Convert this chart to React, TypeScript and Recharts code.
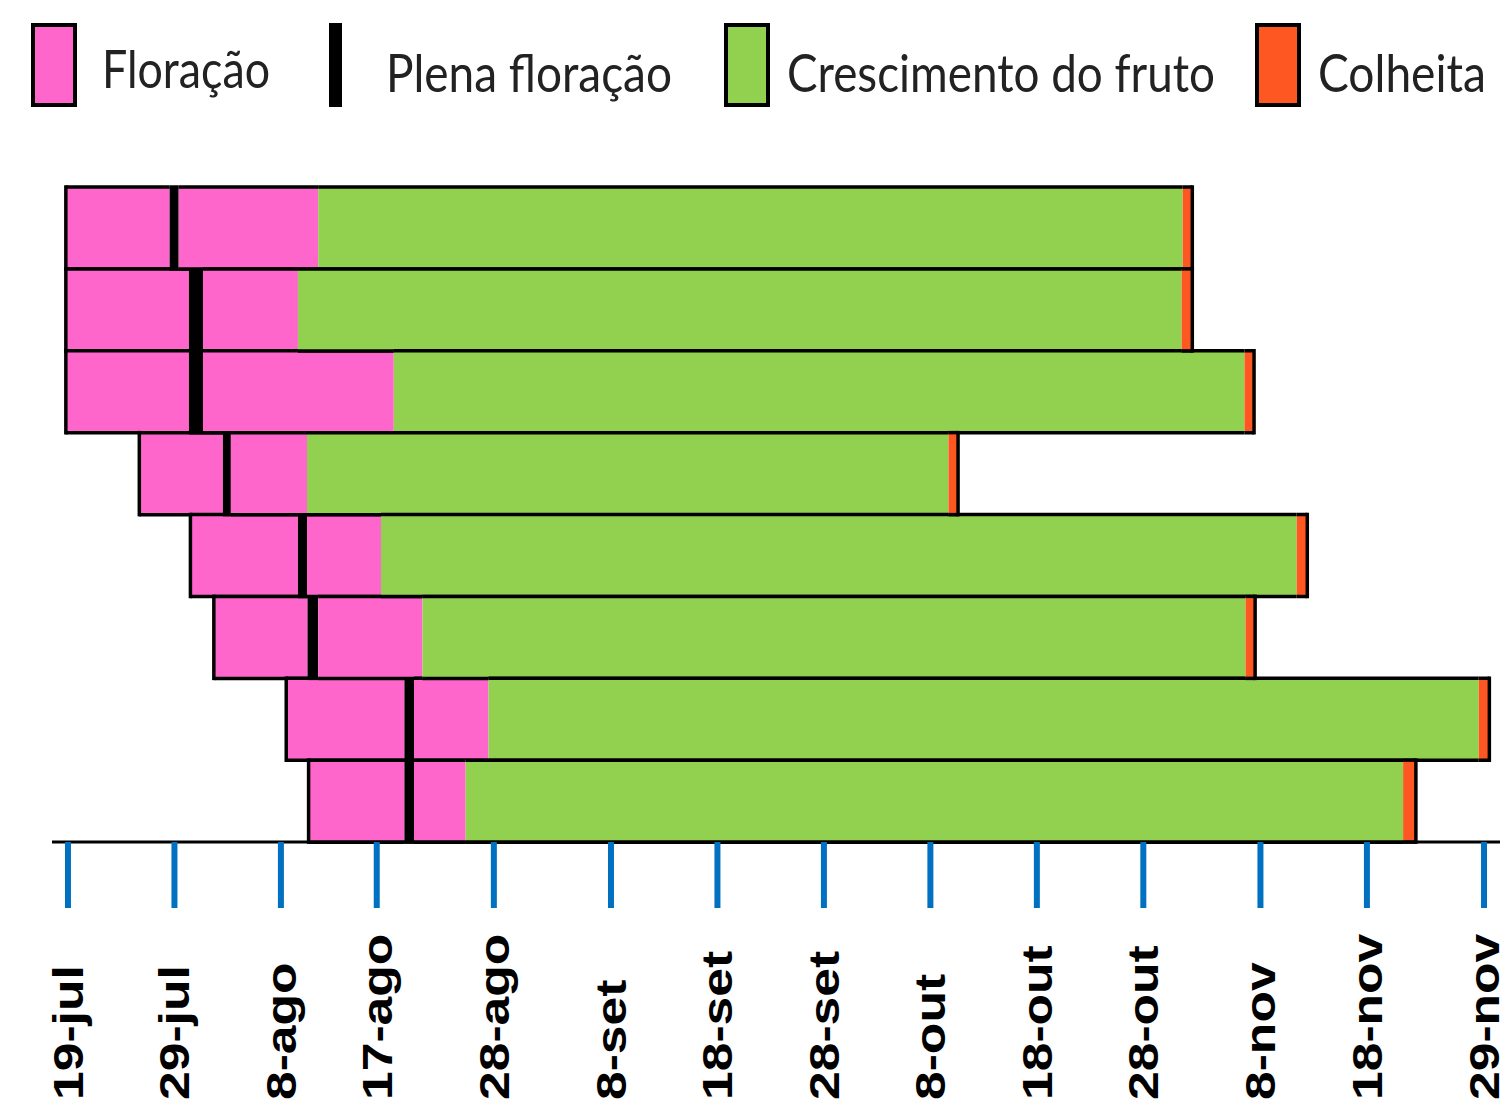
import { Bar, BarChart, XAxis, YAxis } from "recharts"

// days counted from 19-jul
const rowIds = ["1", "2", "3", "4", "5", "6", "7", "8"]
const floracaoInicio = [-0.2, -0.2, -0.2, 6.7, 11.5, 13.7, 20.5, 22.6]
const plenaInicio = [9.55, 11.36, 11.36, 14.55, 21.6, 22.5, 31.6, 31.6]
const plenaFim = [10.4, 12.68, 12.68, 15.3, 22.45, 23.5, 32.5, 32.5]
const floracaoFim = [23.5, 21.6, 30.6, 22.45, 29.4, 33.3, 39.5, 37.35]
const crescimentoFim = [104.7, 104.6, 110.5, 82.7, 115.4, 110.6, 132.5, 125.4]
const colheitaFim = [105.6, 105.6, 111.4, 83.6, 116.4, 111.5, 133.5, 126.6]

const tickDays = [0, 10, 20, 29, 40, 51, 61, 71, 81, 91, 101, 112, 122, 133]
const tickLabels = [
  "19-jul", "29-jul", "8-ago", "17-ago", "28-ago", "8-set", "18-set",
  "28-set", "8-out", "18-out", "28-out", "8-nov", "18-nov", "29-nov",
]

const legendLabels = ["Floração", "Plena floração", "Crescimento do fruto", "Colheita"]

const PINK = "#FF66CC"
const GREEN = "#92D050"
const ORANGE = "#FF5722"
const OUTLINE = 3.5

const table = rowIds.map((row, i) => ({
  row,
  offset: floracaoInicio[i],
  flor1: plenaInicio[i] - floracaoInicio[i],
  plena: plenaFim[i] - plenaInicio[i],
  flor2: floracaoFim[i] - plenaFim[i],
  fruto: crescimentoFim[i] - floracaoFim[i],
  colheita: colheitaFim[i] - crescimentoFim[i],
}))

function segment(fill: string, first: boolean, last: boolean) {
  return (props: any) => {
    const { x, y, width, height } = props
    return (
      <g>
        <rect x={x} y={y} width={width} height={height} fill={fill} />
        <line x1={x} x2={x + width} y1={y} y2={y} stroke="#000" strokeWidth={OUTLINE} />
        <line x1={x} x2={x + width} y1={y + height} y2={y + height} stroke="#000" strokeWidth={OUTLINE} />
        {first && (
          <line x1={x} x2={x} y1={y - OUTLINE / 2} y2={y + height + OUTLINE / 2} stroke="#000" strokeWidth={OUTLINE} />
        )}
        {last && (
          <line x1={x + width} x2={x + width} y1={y - OUTLINE / 2} y2={y + height + OUTLINE / 2} stroke="#000" strokeWidth={OUTLINE} />
        )}
      </g>
    )
  }
}

function DateTick(props: any) {
  const { x, y, payload } = props
  const label = tickLabels[tickDays.indexOf(payload.value)]
  const ty = y + 190
  return (
    <text
      transform={`translate(${x},${ty}) rotate(-90) scale(1.2,1)`}
      textAnchor="start"
      dominantBaseline="central"
      fontFamily="Liberation Sans, Arial, sans-serif"
      fontWeight="bold"
      fontSize={43}
      fill="#000"
    >
      {label}
    </text>
  )
}

function Legend() {
  const text = {
    fontFamily: "Lato, 'Open Sans', sans-serif",
    fontSize: 52,
    fill: "#222",
    lengthAdjust: "spacingAndGlyphs",
  } as const
  return (
    <svg width={1501} height={130} style={{ position: "absolute", left: 0, top: 0 }}>
      <rect x={33} y={25} width={42} height={80} fill={PINK} stroke="#000" strokeWidth={4} />
      <text x={102} y={88} textLength={168} {...text}>{legendLabels[0]}</text>
      <rect x={329} y={23} width={13} height={84} fill="#000" />
      <text x={386} y={92} textLength={286} {...text}>{legendLabels[1]}</text>
      <rect x={726} y={25} width={42} height={80} fill={GREEN} stroke="#000" strokeWidth={4} />
      <text x={787} y={92} textLength={428} {...text}>{legendLabels[2]}</text>
      <rect x={1257} y={25} width={42} height={80} fill={ORANGE} stroke="#000" strokeWidth={4} />
      <text x={1318} y={92} textLength={168} {...text}>{legendLabels[3]}</text>
    </svg>
  )
}

export default function App() {
  return (
    <div style={{ position: "absolute", left: 0, top: 0, width: 1501, height: 1103, background: "#fff" }}>
      <Legend />
      <BarChart
        width={1501}
        height={1103}
        data={table}
        layout="vertical"
        barCategoryGap={0}
        margin={{ top: 187, right: 1, bottom: 0, left: 52 }}
        style={{ position: "absolute", left: 0, top: 0 }}
      >
        <XAxis
          type="number"
          domain={[-1.5, 134.5]}
          allowDataOverflow
          ticks={tickDays}
          interval={0}
          height={261}
          tickSize={66}
          tickLine={{ stroke: "#0070C0", strokeWidth: 6 }}
          axisLine={{ stroke: "#000", strokeWidth: 3 }}
          tick={<DateTick />}
        />
        <YAxis type="category" dataKey="row" hide />
        <Bar dataKey="offset" stackId="a" fill="transparent" isAnimationActive={false} />
        <Bar dataKey="flor1" stackId="a" shape={segment(PINK, true, false)} isAnimationActive={false} />
        <Bar dataKey="plena" stackId="a" shape={segment("#000", false, false)} isAnimationActive={false} />
        <Bar dataKey="flor2" stackId="a" shape={segment(PINK, false, false)} isAnimationActive={false} />
        <Bar dataKey="fruto" stackId="a" shape={segment(GREEN, false, false)} isAnimationActive={false} />
        <Bar dataKey="colheita" stackId="a" shape={segment(ORANGE, false, true)} isAnimationActive={false} />
      </BarChart>
    </div>
  )
}
